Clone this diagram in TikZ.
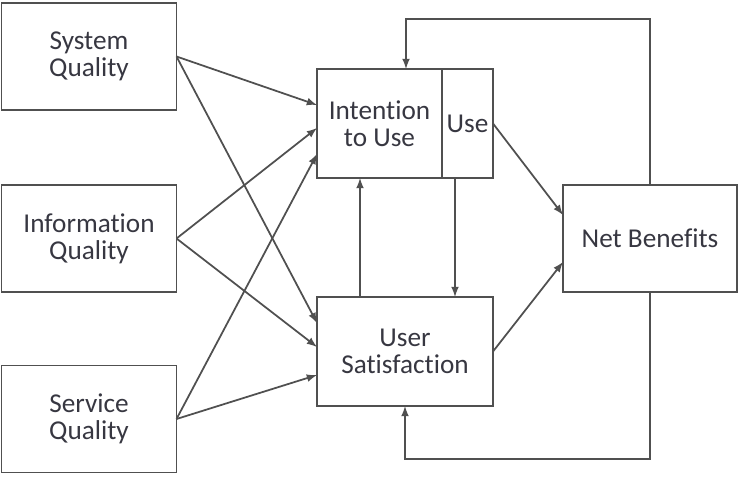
\documentclass[tikz,border=0pt]{standalone}
\usepackage{fontspec}
\setmainfont{Carlito}[Ligatures={NoCommon}]
\usepackage{tikz}
\usetikzlibrary{arrows}
\usepackage{xcolor}

\definecolor{linegray}{RGB}{80,80,80}
\definecolor{textgray}{RGB}{55,55,65}

\begin{document}
\begin{tikzpicture}[
    blk/.style={draw=linegray, line width=1pt, outer sep=0pt, align=center, text=textgray,
                minimum width=3.5cm, minimum height=2.14cm, font=\fontsize{15.5}{15.5}\selectfont},
    arr/.style={-latex, draw=linegray, line width=1pt}]

      \useasboundingbox (0, 0) rectangle (14.82, -9.54);

      \node[blk] (sys) at (1.78, -1.13) {System\\Quality};
      \node[blk] (info) at (1.78, -4.77) {Information\\Quality};
      \node[blk] (serv) at (1.78, -8.38) {Service\\Quality};

      \node[blk, minimum width=2.5cm, minimum height=2.18cm] (intent) at (7.59, -2.47) {Intention\\to Use};
      \node[blk, minimum width=1.02cm, minimum height=2.18cm, inner xsep=1pt, anchor=west] (use) at (intent.east) {Use};
      \node[blk, minimum width=3.52cm, minimum height=2.18cm] (us) at (8.10, -7.03) {User\\Satisfaction};

      \node[blk, minimum width=3.48cm] (nb) at (13.0, -4.77) {Net Benefits};

      \draw[arr] (sys.east) -- ([yshift=0.37cm]intent.west);
      \draw[arr] (info.east) -- ([yshift=-0.09cm]intent.west);
      \draw[arr] (serv.east) -- ([yshift=-0.61cm]intent.west);

      \draw[arr] (sys.east) -- ([yshift=0.57cm]us.west);
      \draw[arr] (info.east) -- ([yshift=0.09cm]us.west);
      \draw[arr] (serv.east) -- ([yshift=-0.47cm]us.west);

      \draw[arr] ([xshift=-0.9cm]us.north) -- ([xshift=-0.9cm]us.north |- intent.south);
      \draw[arr] ([xshift=-0.25cm]use.south) -- ([xshift=-0.25cm]use.south |- us.north);

      \draw[arr] (use.east) -- ([yshift=0.47cm]nb.west);
      \draw[arr] (us.east) -- ([yshift=-0.47cm]nb.west);

      % feedback loops
      \draw[arr] (nb.north) -- ++(0, 3.32) -| ([xshift=0.53cm]intent.north);
      \draw[arr] (nb.south) -- ++(0, -3.34) -| (us.south);

    \end{tikzpicture}
\end{document}
